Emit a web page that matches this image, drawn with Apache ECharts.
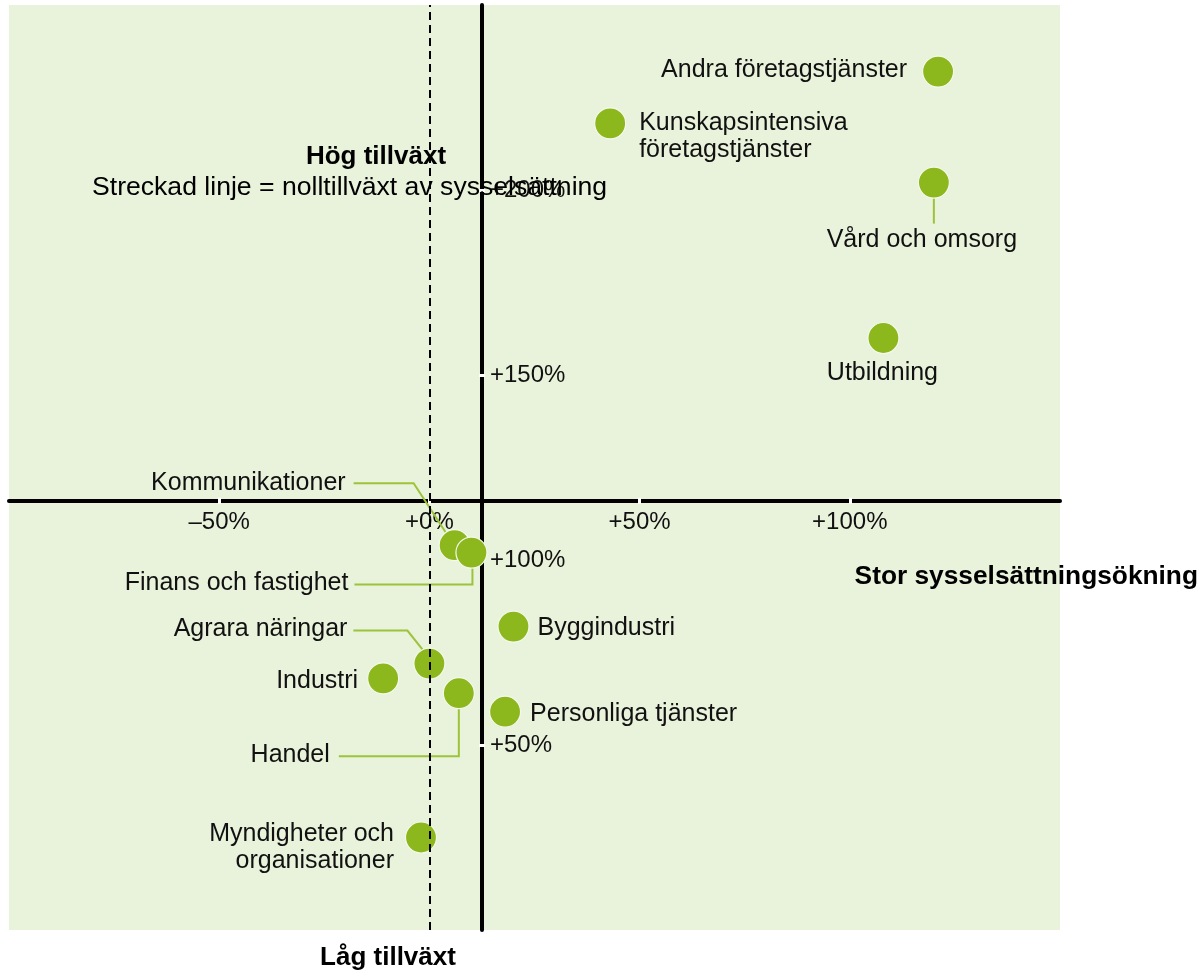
<!DOCTYPE html>
<html><head><meta charset="utf-8">
<script src="https://cdn.jsdelivr.net/npm/echarts@6/dist/echarts.min.js"></script>
<style>html,body{margin:0;padding:0;background:#fff}#c{width:1203px;height:972px}</style>
</head><body><div id="c"></div>
<script>
// ---------- data ----------
const categories = ['Andra företagstjänster', 'Kunskapsintensiva\nföretagstjänster', 'Vård och omsorg', 'Utbildning',
  'Kommunikationer', 'Finans och fastighet', 'Byggindustri', 'Agrara näringar', 'Industri', 'Handel',
  'Personliga tjänster', 'Myndigheter och\norganisationer'];
const employmentGrowth = [121, 43, 120, 108, 6, 10, 20, 0, -11, 7, 18, -2];
const valueGrowth      = [232, 218, 202, 160, 104, 102, 82, 72, 68, 64, 59, 25];
const xTickValues = [-50, 0, 50, 100];
const xTickLabels = ['–50%', '+0%', '+50%', '+100%'];
const yTickValues = [50, 100, 150, 200];
const yTickLabels = ['+50%', '+100%', '+150%', '+200%'];
const xRange = [-100, 150];
const yRange = [0, 250];
const xCross = 12.5;   // where the vertical axis crosses
const yCross = 116;    // where the horizontal axis crosses
const zeroGrowth = 0;  // dashed line

// ---------- layout ----------
const W = 1203, H = 972;
const G = { left: 9, right: 143, top: 5, bottom: 42 };
const gridW = W - G.left - G.right, gridH = H - G.top - G.bottom;
// shift axes from grid edges to the crossing values (through the axis scale ratio)
const xAxisOffset = -((yCross - yRange[0]) / (yRange[1] - yRange[0])) * gridH;
const yAxisOffset = -((xCross - xRange[0]) / (xRange[1] - xRange[0])) * gridW;

const labelLayout = [
  { dx: -31, dy: -1, align: 'right' },
  { dx: 29, dy: 13, align: 'left' },
  { dx: -12, dy: 58, align: 'center' },
  { dx: -1, dy: 35, align: 'center' },
  { dx: -109, dy: -62, align: 'right' },
  { dx: -123, dy: 31, align: 'right' },
  { dx: 24, dy: 2, align: 'left' },
  { dx: -82, dy: -34, align: 'right' },
  { dx: -25, dy: 3, align: 'right' },
  { dx: -129, dy: 62, align: 'right' },
  { dx: 25, dy: 2, align: 'left' },
  { dx: -27, dy: 10, align: 'right' }
];
const leaderPaths = {
  2: [[0, 15], [0, 41]],
  4: [[-101, -62], [-41, -62], [-9, -13]],
  5: [[1, 15], [1, 32], [-117, 32]],
  7: [[-76, -33], [-22, -33], [-6, -13]],
  9: [[0, 15], [0, 63], [-120, 63]]
};

const FONT = '"Liberation Sans", Arial, sans-serif';
const DOT = '#8db81d';
const LEADER = '#9cc43a';

const chart = echarts.init(document.getElementById('c'), null, { renderer: 'canvas' });

const baseX = {
  type: 'value', min: xRange[0], max: xRange[1], interval: 50, position: 'bottom',
  offset: xAxisOffset, splitLine: { show: false }
};
const baseY = {
  type: 'value', min: yRange[0], max: yRange[1], interval: 50, position: 'left',
  offset: yAxisOffset, splitLine: { show: false }
};

const option = {
  animation: false,
  grid: {
    left: G.left, right: G.right, top: G.top, bottom: G.bottom,
    show: true, backgroundColor: '#e9f2da', borderWidth: 0,
    containLabel: false, outerBoundsMode: 'none'
  },
  xAxis: [
    Object.assign({}, baseX, {
      axisLine: { show: true, onZero: false, lineStyle: { color: '#000', width: 4 } },
      axisTick: { show: true, customValues: xTickValues, inside: false, length: 3, lineStyle: { color: '#fff', width: 3 } },
      axisLabel: {
        show: true, customValues: xTickValues, margin: 10,
        formatter: v => { const i = xTickValues.indexOf(v); return i >= 0 ? xTickLabels[i] : ''; },
        fontSize: 24, fontFamily: FONT, color: '#111'
      }
    }),
    Object.assign({}, baseX, {
      axisLine: { show: true, onZero: false, lineStyle: { color: '#000', width: 4, opacity: 0 } },
      axisTick: { show: true, customValues: xTickValues, inside: true, length: 3, lineStyle: { color: '#fff', width: 3 } },
      axisLabel: { show: false }
    })
  ],
  yAxis: [
    Object.assign({}, baseY, {
      axisLine: { show: true, onZero: false, lineStyle: { color: '#000', width: 4 } },
      axisTick: { show: true, customValues: yTickValues, inside: false, length: 3, lineStyle: { color: '#fff', width: 3 } },
      axisLabel: {
        show: true, inside: true, customValues: yTickValues, margin: 8,
        formatter: v => { const i = yTickValues.indexOf(v); return i >= 0 ? yTickLabels[i] : ''; },
        fontSize: 24, fontFamily: FONT, color: '#111'
      }
    }),
    Object.assign({}, baseY, {
      axisLine: { show: true, onZero: false, lineStyle: { color: '#000', width: 4, opacity: 0 } },
      axisTick: { show: true, customValues: yTickValues, inside: true, length: 3, lineStyle: { color: '#fff', width: 3 } },
      axisLabel: { show: false }
    })
  ],
  graphic: [
    { type: 'text', x: 376, y: 157, z: 10, style: { text: 'Hög tillväxt', fontSize: 26, fontWeight: 'bold', fontFamily: FONT, fill: '#000', align: 'center', verticalAlign: 'middle' } },
    { type: 'text', x: 92, y: 188, z: 10, style: { text: 'Streckad linje = nolltillväxt av sysselsättning', fontSize: 26.6, fontFamily: FONT, fill: '#000', align: 'left', verticalAlign: 'middle' } },
    { type: 'text', x: 388, y: 958, z: 10, style: { text: 'Låg tillväxt', fontSize: 26, fontWeight: 'bold', fontFamily: FONT, fill: '#000', align: 'center', verticalAlign: 'middle' } },
    { type: 'text', x: 1198, y: 577, z: 10, style: { text: 'Stor sysselsättningsökning', fontSize: 26.3, fontWeight: 'bold', fontFamily: FONT, fill: '#000', align: 'right', verticalAlign: 'middle' } }
  ],
  series: [
    {
      type: 'line', data: [], z: 1, silent: true,
      markLine: {
        silent: true, symbol: 'none', label: { show: false }, animation: false,
        lineStyle: { type: [8, 5], color: '#000', width: 2 },
        data: [{ xAxis: zeroGrowth }]
      }
    },
    {
      type: 'custom', z: 2, silent: true,
      data: employmentGrowth.map((x, i) => [x, valueGrowth[i], i]),
      encode: { x: 0, y: 1 },
      renderItem: function (params, api) {
        const i = api.value(2);
        const path = leaderPaths[i];
        if (!path) return null;
        const c = api.coord([api.value(0), api.value(1)]);
        return {
          type: 'polyline',
          shape: { points: path.map(p => [c[0] + p[0], c[1] + p[1]]) },
          style: { stroke: LEADER, lineWidth: 2, fill: null }
        };
      }
    },
    {
      type: 'scatter', z: 3, symbolSize: 31,
      itemStyle: { color: DOT, borderColor: '#f4f9ec', borderWidth: 1.2, opacity: 1 },
      data: employmentGrowth.map((x, i) => ({
        name: categories[i],
        value: [x, valueGrowth[i]],
        label: {
          show: true, position: 'inside',
          offset: [labelLayout[i].dx, labelLayout[i].dy],
          align: labelLayout[i].align, verticalAlign: 'middle',
          formatter: categories[i],
          fontSize: 25, lineHeight: 27, fontFamily: FONT, color: '#111'
        }
      })),
      emphasis: { disabled: true }
    }
  ]
};
chart.setOption(option);
</script>
</body></html>
